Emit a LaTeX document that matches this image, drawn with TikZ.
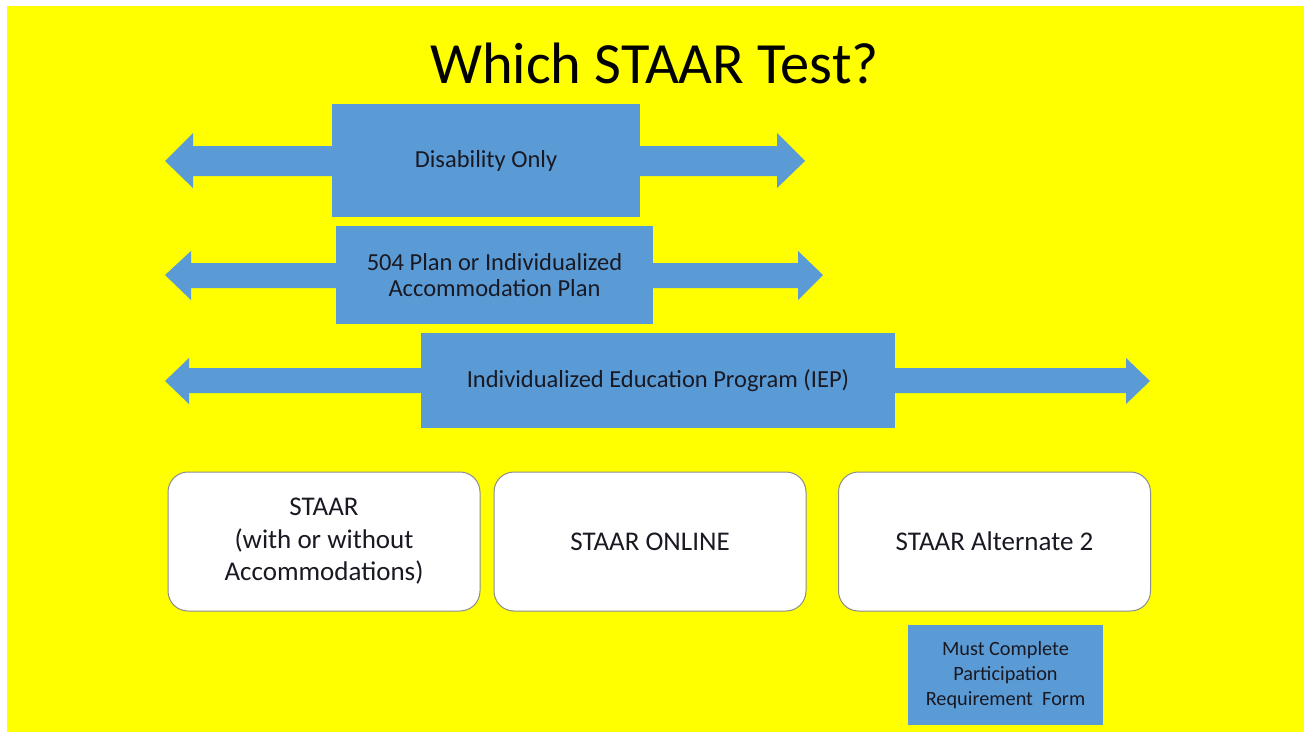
\documentclass[tikz,border=0pt]{standalone}
\usepackage{fontspec}
\setmainfont{Carlito}
\definecolor{slideyellow}{RGB}{255,255,0}
\definecolor{officeblue}{RGB}{91,155,213}
\definecolor{txtdark}{RGB}{25,25,35}
\definecolor{boxgray}{RGB}{140,140,140}
\tikzset{
  bluebox/.style={fill=officeblue, draw=none, inner sep=0pt, align=center,
    text=txtdark, font=\fontsize{24.5}{26}\selectfont},
  whitebox/.style={fill=white, draw=boxgray, line width=1pt, rounded corners=20pt,
    minimum width=312pt, minimum height=139pt, inner sep=0pt, align=center,
    text=txtdark, font=\fontsize{27}{32.5}\selectfont},
  arrowfill/.style={fill=officeblue},
}
\begin{document}
\begin{tikzpicture}[x=1pt,y=-1pt]
\useasboundingbox (0,0) rectangle (1308,732);
\fill[white] (0,0) rectangle (1308,732);
\fill[slideyellow] (7,6) rectangle (1304,732);

% title
\node[anchor=base, inner sep=0pt, font=\fontsize{58.4}{70}\selectfont, text=black] (title) at (654.5,83) {Which STAAR Test?};

% double arrows (drawn behind the boxes)
\fill[arrowfill] (165,161) -- (193,133) -- (193,146) -- (777,146) -- (777,133) -- (805,161)
  -- (777,188) -- (777,176) -- (193,176) -- (193,188) -- cycle;
\fill[arrowfill] (165,275) -- (191,251) -- (191,263) -- (798,263) -- (798,251) -- (823,275)
  -- (798,300) -- (798,288) -- (191,288) -- (191,300) -- cycle;
\fill[arrowfill] (165,381) -- (189,358) -- (189,368) -- (1126,368) -- (1126,358) -- (1150,381)
  -- (1126,404) -- (1126,393) -- (189,393) -- (189,404) -- cycle;

% blue boxes
\node[bluebox, minimum width=308pt, minimum height=113pt] (dis) at (486,160.5) {Disability Only};
\node[bluebox, minimum width=317pt, minimum height=98pt] (plan) at (494.5,275) {504 Plan or Individualized\\Accommodation Plan};
\node[bluebox, minimum width=474pt, minimum height=95pt] (iep) at (658,380.5) {Individualized Education Program (IEP)};

% white rounded boxes
\node[whitebox] (staar) at (324,541.5) {STAAR\\(with or without\\Accommodations)};
\node[whitebox] (online) at (650,541.5) {STAAR ONLINE};
\node[whitebox] (alt) at (994.5,541.5) {STAAR Alternate 2};

% small box
\node[bluebox, minimum width=195pt, minimum height=100pt, font=\fontsize{20.3}{25}\selectfont] (form) at (1005.5,675) {Must Complete\\Participation\\Requirement\ \ Form};
\end{tikzpicture}
\end{document}
